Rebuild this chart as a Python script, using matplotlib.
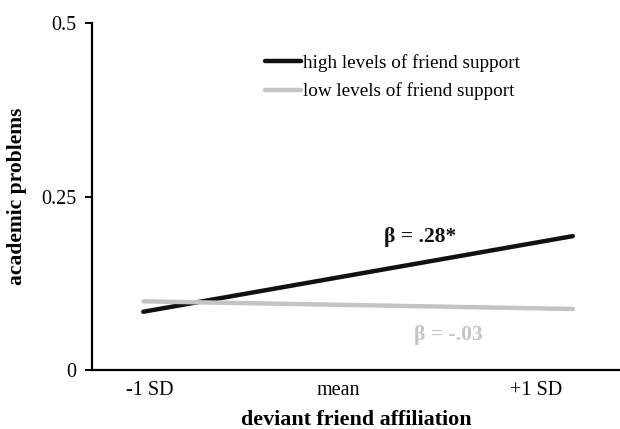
import matplotlib
matplotlib.use('Agg')
import matplotlib.pyplot as plt

plt.rcParams['font.family'] = ['Liberation Serif', 'DejaVu Serif']

# data
x_levels = [-1, 1]
high_support = [0.084, 0.193]
low_support = [0.099, 0.088]
x_tick_pos = [-0.97, -0.09, 0.83]
x_tick_labels = ['-1 SD', 'mean', '+1 SD']
y_ticks = [0, 0.25, 0.5]
y_tick_labels = ['0', '0.25', '0.5']
series_names = ['high levels of friend support', 'low levels of friend support']
beta_labels = ['\u03b2 = .28*', '\u03b2 = -.03']

black = '#111111'
grey = '#c4c4c4'

fig = plt.figure(figsize=(6.2, 4.29), dpi=100)
ax = fig.add_axes([0.148, 0.1375, 0.852, 0.8085])

ax.plot(x_levels, high_support, color=black, lw=3.2, solid_capstyle='round', label=series_names[0])
ax.plot(x_levels, low_support, color=grey, lw=3.2, solid_capstyle='round', label=series_names[1])

ax.set_xlim(-1.24, 1.22)
ax.set_ylim(0, 0.5)
ax.set_yticks(y_ticks)
ax.set_yticklabels(y_tick_labels, fontsize=14.5)
ax.set_xticks(x_tick_pos)
ax.set_xticklabels(x_tick_labels, fontsize=14.5)

for s in ['top', 'right']:
    ax.spines[s].set_visible(False)
ax.spines['left'].set_linewidth(1.6)
ax.spines['bottom'].set_linewidth(1.6)
ax.tick_params(axis='y', length=5, width=1.4, pad=6)
ax.tick_params(axis='x', length=0, pad=8)

ax.set_ylabel('academic problems', fontsize=15.5, fontweight='bold', labelpad=10)
ax.set_xlabel('deviant friend affiliation', fontsize=15.8, fontweight='bold', labelpad=7)

ax.text(0.29, 0.1916, beta_labels[0], fontsize=15.5, fontweight='bold', color=black,
        ha='center', va='center')
ax.text(0.42, 0.0504, beta_labels[1], fontsize=15.5, fontweight='bold', color=grey,
        ha='center', va='center')

leg = ax.legend(loc='upper left', bbox_to_anchor=(265 / 620, 1 - 54 / 429),
                bbox_transform=fig.transFigure, frameon=False, fontsize=13.8,
                handlelength=1.9, handletextpad=0.1, labelspacing=0.55,
                borderpad=0, borderaxespad=0)

fig.savefig('out.png', dpi=100)
